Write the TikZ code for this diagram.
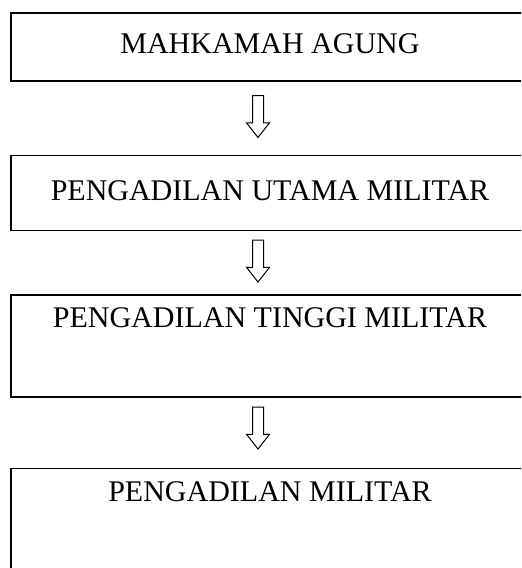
\documentclass[tikz,border=0pt]{standalone}
\usepackage{fontspec}
\setmainfont{Liberation Serif}
\usetikzlibrary{positioning}
\usetikzlibrary{calc}
\usetikzlibrary{shapes.arrows}

\begin{document}
\begin{tikzpicture}[
    x=0.5pt, y=-0.5pt,
    courtnode/.style={rectangle, draw=black, line width=0.75pt, minimum width=259pt, inner sep=0pt, anchor=north, font=\fontsize{15}{18}\selectfont},
    hollowarrow/.style={single arrow, draw=black, line width=0.5pt, shape border rotate=270, minimum height=21pt, minimum width=11pt, single arrow head extend=3pt, single arrow tip angle=76, inner sep=0pt, text width=5pt, text height=2.5pt, text depth=2.5pt},
    ]

    \useasboundingbox (0,0) rectangle (521,568);
    \clip (0,0) rectangle (521,568);

    %Nodes
    \node[courtnode, text height=20.5pt, text depth=13.5pt] (agung)  at (270,12)             {MAHKAMAH AGUNG};
    \node[courtnode, text height=22.5pt, text depth=15pt]   (utama)  [below=36.5pt of agung] {PENGADILAN UTAMA MILITAR};
    \node[courtnode, text height=16.5pt, text depth=34.5pt] (tinggi) [below=31.5pt of utama] {PENGADILAN TINGGI MILITAR};
    \node[courtnode, text height=16.5pt, text depth=34.5pt] (militer)[below=35pt of tinggi]  {PENGADILAN MILITAR};

    %Arrows
    \node[hollowarrow, xshift=-6pt, yshift=2.5pt] (arrowone)   at ($(agung.south)!0.5!(utama.north)$)   {};
    \node[hollowarrow, xshift=-6pt, yshift=2.5pt] (arrowtwo)   at ($(utama.south)!0.5!(tinggi.north)$)  {};
    \node[hollowarrow, xshift=-6pt, yshift=4pt]   (arrowthree) at ($(tinggi.south)!0.5!(militer.north)$) {};

\end{tikzpicture}
\end{document}
